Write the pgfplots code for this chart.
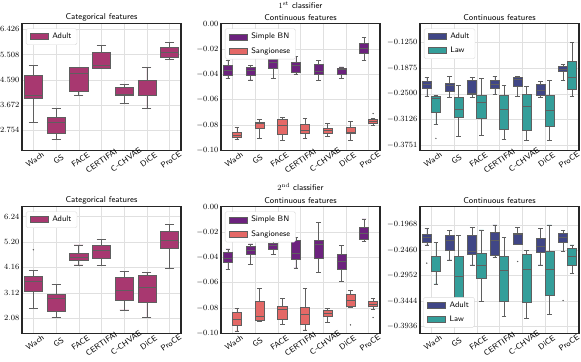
\documentclass[border=0pt]{standalone}
\usepackage{pgfplots}
\pgfplotsset{compat=1.18}
\usepgfplotslibrary{statistics}

\definecolor{adultm}{RGB}{168,56,112}
\definecolor{simplebn}{RGB}{108,34,126}
\definecolor{sang}{RGB}{228,104,102}
\definecolor{adultb}{RGB}{64,70,134}
\definecolor{law}{RGB}{52,158,154}
\definecolor{edge}{RGB}{95,95,95}

% position, box width, colour, lower whisker, lower quartile, median, upper quartile, upper whisker
\newcommand{\bx}[8]{\addplot[forget plot, fill=#3, draw=edge, line width=0.6bp,
  boxplot prepared={draw position=#1, box extend=#2, whisker extend=#2*0.5,
    lower whisker=#4, lower quartile=#5, median=#6, upper quartile=#7, upper whisker=#8}]
  coordinates {};}
\newcommand{\fl}[2]{\addplot[forget plot, only marks, mark=*, mark size=0.45bp, draw=edge, fill=edge] coordinates {(#1,#2)};}

\pgfplotsset{
  panel/.style={
    scale only axis, width=159bp, height=127bp,
    anchor=south west,
    boxplot/draw direction=y,
    xmin=-0.5, xmax=6.5,
    xtick={0,...,6},
    xticklabels={Wach,GS,FACE,CERTIFAI,C-CHVAE,DiCE,ProCE},
    xticklabel style={rotate=35, anchor=north east, inner sep=0pt,
      xshift={{6.2,2.4,6.4,12.2,14.2,5.6,7.3}[\ticknum]}, yshift=-5.5bp,
      font=\sffamily\fontsize{8}{9}\selectfont},
    yticklabel style={anchor=east, inner sep=0pt, xshift=-2.5bp, font=\fontsize{8}{9}\selectfont},
    tick style={draw=none},
    grid=major, grid style={black!12, line width=0.5bp},
    axis line style={line width=1.2bp, black!85},
    every axis title/.style={at={(0.5,1)}, anchor=south, inner sep=0pt, yshift=2.5bp,
      font=\sffamily\fontsize{8.5}{9}\selectfont},
    legend image code/.code={\draw[#1, sharp corners] (0bp,-3bp) rectangle (18bp,3bp);},
    legend style={font=\sffamily\fontsize{8}{9}\selectfont, draw=black!15, rounded corners=1.5bp,
      fill=white, inner xsep=3.5bp, inner ysep=2.5bp, row sep=3bp,
      /tikz/every odd column/.append style={column sep=2bp},
      cells={anchor=west}, at={(0.025,0.96)}, anchor=north west},
  },
}

\begin{document}
\begin{tikzpicture}
\useasboundingbox (0,0) rectangle (581bp,-362bp);

\node[font=\sffamily\fontsize{8.5}{9}\selectfont] at (300.5bp,-5bp) {$1^{\mathrm{st}}$ classifier};
\node[font=\sffamily\fontsize{8.5}{9}\selectfont] at (300.5bp,-187bp) {$2^{\mathrm{nd}}$ classifier};

% ---------------- first classifier ----------------
\begin{axis}[panel, at={(22bp,-150.5bp)}, title={Categorical features},
  ymin=2.02, ymax=6.64,
  ytick={2.754,3.672,4.590,5.508,6.426},
  yticklabels={$2.754$,$3.672$,$4.590$,$5.508$,$6.426$}]
\addlegendimage{fill=adultm, draw=edge, line width=0.6bp}
\addlegendentry{Adult}
\bx{0}{0.8}{adultm}{3.03}{3.92}{4.01}{4.77}{5.13}
\bx{1}{0.8}{adultm}{2.43}{2.65}{3.03}{3.22}{3.54}
\bx{2}{0.8}{adultm}{4.03}{4.16}{4.84}{5.03}{5.03}
\bx{3}{0.8}{adultm}{5.02}{5.02}{5.13}{5.59}{5.84}
\bx{4}{0.8}{adultm}{3.74}{4.03}{4.08}{4.31}{4.43}
\bx{5}{0.8}{adultm}{3.54}{4.01}{4.01}{4.58}{5.03}
\bx{6}{0.8}{adultm}{5.34}{5.41}{5.60}{5.76}{5.94}
\end{axis}

\begin{axis}[panel, at={(221bp,-150.5bp)}, title={Continuous features},
  ymin=-0.1, ymax=0,
  ytick={-0.1,-0.08,-0.06,-0.04,-0.02,0},
  yticklabels={$-0.10$,$-0.08$,$-0.06$,$-0.04$,$-0.02$,$0.00$}]
\addlegendimage{fill=simplebn, draw=edge, line width=0.6bp}
\addlegendentry{Simple BN}
\addlegendimage{fill=sang, draw=edge, line width=0.6bp}
\addlegendentry{Sangionese}
\bx{-0.2}{0.4}{simplebn}{-0.0434}{-0.0407}{-0.0365}{-0.0333}{-0.0288}
\bx{0.8}{0.4}{simplebn}{-0.0444}{-0.0407}{-0.0365}{-0.0347}{-0.0331}
\bx{1.8}{0.4}{simplebn}{-0.0434}{-0.0352}{-0.0307}{-0.0280}{-0.0249}
\bx{2.8}{0.4}{simplebn}{-0.0400}{-0.0386}{-0.0331}{-0.0307}{-0.0262}
\bx{3.8}{0.4}{simplebn}{-0.0450}{-0.0400}{-0.0376}{-0.0320}{-0.0288}
\bx{4.8}{0.4}{simplebn}{-0.0434}{-0.0400}{-0.0357}{-0.0352}{-0.0341}
\bx{5.8}{0.4}{simplebn}{-0.0288}{-0.0233}{-0.0193}{-0.0156}{-0.0111}
\bx{0.2}{0.4}{sang}{-0.0910}{-0.0899}{-0.0881}{-0.0857}{-0.0817}
\bx{1.2}{0.4}{sang}{-0.0905}{-0.0828}{-0.0788}{-0.0778}{-0.0754}
\bx{2.2}{0.4}{sang}{-0.0923}{-0.0876}{-0.0802}{-0.0751}{-0.0741}
\bx{3.2}{0.4}{sang}{-0.0905}{-0.0868}{-0.0841}{-0.0796}{-0.0746}
\bx{4.2}{0.4}{sang}{-0.0889}{-0.0865}{-0.0844}{-0.0825}{-0.0788}
\bx{5.2}{0.4}{sang}{-0.0923}{-0.0868}{-0.0860}{-0.0820}{-0.0772}
\bx{6.2}{0.4}{sang}{-0.0802}{-0.0783}{-0.0770}{-0.0757}{-0.0746}
\fl{6.2}{-0.0709}
\end{axis}

\begin{axis}[panel, at={(420bp,-150.5bp)}, title={Continuous features},
  ymin=-0.3886, ymax=-0.0781,
  ytick={-0.3751,-0.3126,-0.25,-0.1875,-0.125},
  yticklabels={$-0.3751$,$-0.3126$,$-0.2500$,$-0.1875$,$-0.1250$}]
\addlegendimage{fill=adultb, draw=edge, line width=0.6bp}
\addlegendentry{Adult}
\addlegendimage{fill=law, draw=edge, line width=0.6bp}
\addlegendentry{Law}
\bx{-0.2}{0.4}{adultb}{-0.2570}{-0.2367}{-0.2269}{-0.2195}{-0.2098}
\bx{0.8}{0.4}{adultb}{-0.2595}{-0.2432}{-0.2285}{-0.2244}{-0.2081}
\bx{1.8}{0.4}{adultb}{-0.2587}{-0.2505}{-0.2489}{-0.2163}{-0.2098}
\bx{2.8}{0.4}{adultb}{-0.2513}{-0.2375}{-0.2269}{-0.2163}{-0.2081}
\bx{3.8}{0.4}{adultb}{-0.2570}{-0.2326}{-0.2138}{-0.2098}{-0.2065}
\bx{4.8}{0.4}{adultb}{-0.2587}{-0.2546}{-0.2407}{-0.2269}{-0.2187}
\bx{5.8}{0.4}{adultb}{-0.2171}{-0.1959}{-0.1894}{-0.1837}{-0.1780}
\bx{0.2}{0.4}{law}{-0.3247}{-0.2953}{-0.2611}{-0.2570}{-0.2530}
\bx{1.2}{0.4}{law}{-0.3548}{-0.3076}{-0.2872}{-0.2587}{-0.2285}
\bx{2.2}{0.4}{law}{-0.3508}{-0.3100}{-0.2709}{-0.2530}{-0.2122}
\bx{3.2}{0.4}{law}{-0.3605}{-0.3361}{-0.2872}{-0.2530}{-0.2285}
\bx{4.2}{0.4}{law}{-0.3630}{-0.3385}{-0.2799}{-0.2505}{-0.2310}
\bx{5.2}{0.4}{law}{-0.3630}{-0.3304}{-0.2896}{-0.2546}{-0.2163}
\bx{6.2}{0.4}{law}{-0.2570}{-0.2391}{-0.2098}{-0.1715}{-0.1250}
\fl{0.2}{-0.3590}
\end{axis}

% ---------------- second classifier ----------------
\begin{axis}[panel, at={(22bp,-333.5bp)}, title={Categorical features},
  ymin=1.454, ymax=6.649,
  ytick={2.08,3.12,4.16,5.20,6.24},
  yticklabels={$2.08$,$3.12$,$4.16$,$5.20$,$6.24$}]
\addlegendimage{fill=adultm, draw=edge, line width=0.6bp}
\addlegendentry{Adult}
\bx{0}{0.8}{adultm}{2.49}{3.17}{3.58}{3.79}{4.02}
\bx{1}{0.8}{adultm}{2.12}{2.36}{2.90}{3.06}{3.45}
\bx{2}{0.8}{adultm}{4.26}{4.44}{4.56}{4.74}{5.08}
\bx{3}{0.8}{adultm}{4.24}{4.51}{4.84}{5.08}{5.29}
\bx{4}{0.8}{adultm}{2.42}{2.81}{3.24}{3.75}{3.99}
\bx{5}{0.8}{adultm}{2.12}{2.72}{3.34}{3.83}{3.95}
\bx{6}{0.8}{adultm}{4.13}{4.92}{5.25}{5.65}{5.93}
\fl{0}{4.88}
\end{axis}

\begin{axis}[panel, at={(221bp,-333.5bp)}, title={Continuous features},
  ymin=-0.1, ymax=0,
  ytick={-0.1,-0.08,-0.06,-0.04,-0.02,0},
  yticklabels={$-0.10$,$-0.08$,$-0.06$,$-0.04$,$-0.02$,$0.00$}]
\addlegendimage{fill=simplebn, draw=edge, line width=0.6bp}
\addlegendentry{Simple BN}
\addlegendimage{fill=sang, draw=edge, line width=0.6bp}
\addlegendentry{Sangionese}
\bx{-0.2}{0.4}{simplebn}{-0.0497}{-0.0439}{-0.0405}{-0.0361}{-0.0334}
\bx{0.8}{0.4}{simplebn}{-0.0458}{-0.0379}{-0.0342}{-0.0316}{-0.0295}
\bx{1.8}{0.4}{simplebn}{-0.0379}{-0.0339}{-0.0303}{-0.0287}{-0.0250}
\bx{2.8}{0.4}{simplebn}{-0.0484}{-0.0413}{-0.0368}{-0.0268}{-0.0242}
\bx{3.8}{0.4}{simplebn}{-0.0518}{-0.0405}{-0.0295}{-0.0268}{-0.0124}
\bx{4.8}{0.4}{simplebn}{-0.0592}{-0.0497}{-0.0434}{-0.0374}{-0.0308}
\bx{5.8}{0.4}{simplebn}{-0.0276}{-0.0255}{-0.0208}{-0.0163}{-0.0097}
\bx{0.2}{0.4}{sang}{-0.0979}{-0.0939}{-0.0892}{-0.0834}{-0.0800}
\bx{1.2}{0.4}{sang}{-0.0900}{-0.0895}{-0.0868}{-0.0750}{-0.0642}
\bx{2.2}{0.4}{sang}{-0.0926}{-0.0887}{-0.0813}{-0.0787}{-0.0721}
\bx{3.2}{0.4}{sang}{-0.0971}{-0.0926}{-0.0847}{-0.0795}{-0.0642}
\bx{4.2}{0.4}{sang}{-0.0913}{-0.0868}{-0.0839}{-0.0821}{-0.0800}
\bx{5.2}{0.4}{sang}{-0.0795}{-0.0789}{-0.0737}{-0.0689}{-0.0663}
\bx{6.2}{0.4}{sang}{-0.0808}{-0.0789}{-0.0768}{-0.0747}{-0.0721}
\fl{5.2}{-0.0932}
\fl{6.2}{-0.0874}
\end{axis}

\begin{axis}[panel, at={(420bp,-333.5bp)}, title={Continuous features},
  ymin=-0.4071, ymax=-0.1614,
  ytick={-0.3936,-0.3444,-0.2952,-0.246,-0.1968},
  yticklabels={$-0.3936$,$-0.3444$,$-0.2952$,$-0.2460$,$-0.1968$},
  legend style={at={(0.021,0.047)}, anchor=south west}]
\addlegendimage{fill=adultb, draw=edge, line width=0.6bp}
\addlegendentry{Adult}
\addlegendimage{fill=law, draw=edge, line width=0.6bp}
\addlegendentry{Law}
\bx{-0.2}{0.4}{adultb}{-0.2355}{-0.2304}{-0.2213}{-0.2149}{-0.2045}
\bx{0.8}{0.4}{adultb}{-0.2646}{-0.2452}{-0.2259}{-0.2175}{-0.2084}
\bx{1.8}{0.4}{adultb}{-0.2743}{-0.2536}{-0.2485}{-0.2162}{-0.2020}
\bx{2.8}{0.4}{adultb}{-0.2601}{-0.2549}{-0.2271}{-0.2110}{-0.1968}
\bx{3.8}{0.4}{adultb}{-0.2343}{-0.2343}{-0.2149}{-0.2142}{-0.2020}
\bx{4.8}{0.4}{adultb}{-0.2743}{-0.2497}{-0.2388}{-0.2226}{-0.2045}
\bx{5.8}{0.4}{adultb}{-0.2485}{-0.2310}{-0.2213}{-0.2129}{-0.2084}
\bx{0.2}{0.4}{law}{-0.3111}{-0.2872}{-0.2581}{-0.2568}{-0.2310}
\bx{1.2}{0.4}{law}{-0.3440}{-0.3440}{-0.2956}{-0.2581}{-0.2175}
\bx{2.2}{0.4}{law}{-0.3453}{-0.3001}{-0.2743}{-0.2517}{-0.2065}
\bx{3.2}{0.4}{law}{-0.3744}{-0.3453}{-0.2840}{-0.2568}{-0.2213}
\bx{4.2}{0.4}{law}{-0.3776}{-0.3466}{-0.2820}{-0.2536}{-0.2460}
\bx{5.2}{0.4}{law}{-0.3698}{-0.3324}{-0.2827}{-0.2485}{-0.1968}
\bx{6.2}{0.4}{law}{-0.2904}{-0.2756}{-0.2581}{-0.2420}{-0.2355}
\fl{-0.2}{-0.2710}
\fl{3.8}{-0.2678}
\fl{5.8}{-0.3434}
\end{axis}
\end{tikzpicture}
\end{document}
